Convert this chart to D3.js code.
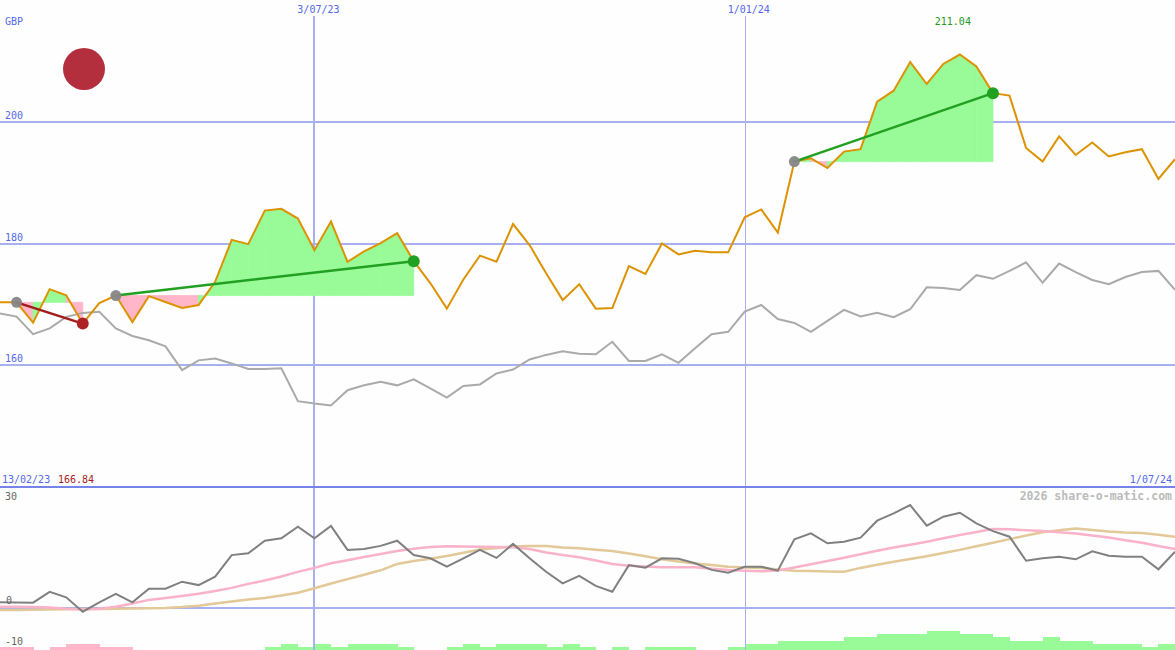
<!DOCTYPE html>
<html>
<head>
<meta charset="utf-8">
<script src="https://cdn.jsdelivr.net/npm/d3@7"></script>
<style>
  html,body{margin:0;padding:0;background:#fdfefd;}
  svg{display:block;}
  text{font-family:"DejaVu Sans Mono","Liberation Mono",monospace;font-size:10px;}
</style>
</head>
<body>
<svg id="chart" width="1175" height="650"></svg>
<script>
// ---------- DATA ----------
const dates = ["2023-02-20","2023-02-27","2023-03-06","2023-03-13","2023-03-20","2023-03-27","2023-04-03","2023-04-10","2023-04-17","2023-04-24",
  "2023-05-01","2023-05-08","2023-05-15","2023-05-22","2023-05-29","2023-06-05","2023-06-12","2023-06-19","2023-06-26","2023-07-03",
  "2023-07-10","2023-07-17","2023-07-24","2023-07-31","2023-08-07","2023-08-14","2023-08-21","2023-08-28","2023-09-04","2023-09-11",
  "2023-09-18","2023-09-25","2023-10-02","2023-10-09","2023-10-16","2023-10-23","2023-10-30","2023-11-06","2023-11-13","2023-11-20",
  "2023-11-27","2023-12-04","2023-12-11","2023-12-18","2023-12-25","2024-01-01","2024-01-08","2024-01-15","2024-01-22","2024-01-29",
  "2024-02-05","2024-02-12","2024-02-19","2024-02-26","2024-03-04","2024-03-11","2024-03-18","2024-03-25","2024-04-01","2024-04-08",
  "2024-04-15","2024-04-22","2024-04-29","2024-05-06","2024-05-13","2024-05-20","2024-05-27","2024-06-03","2024-06-10","2024-06-17",
  "2024-06-24","2024-07-01"];

// share price (GBP) - orange line
const price = [170.33,170.33,167.0,172.5,171.5,166.84,170.2,171.45,167.1,171.35,
  170.4,169.4,169.9,173.7,180.6,179.9,185.4,185.7,184.1,178.9,
  183.6,177.0,178.7,180.05,181.7,177.1,173.5,169.3,174.1,178.0,
  177.0,183.2,179.75,175.1,170.7,173.3,169.3,169.4,176.3,175.0,
  180.0,178.2,178.8,178.55,178.55,184.3,185.6,181.8,193.45,194.0,
  192.4,195.1,195.5,203.3,205.1,209.8,206.2,209.5,211.04,209.1,
  204.7,204.3,195.7,193.45,197.6,194.55,196.6,194.3,195.0,195.5,
  190.6,193.85];

// comparison index (rebased) - grey line
const index = [168.5,168.0,165.1,166.05,167.95,168.6,168.8,166.05,164.8,164.1,
  163.1,159.2,160.8,161.1,160.3,159.4,159.4,159.5,154.1,153.7,
  153.4,155.9,156.7,157.3,156.7,157.7,156.2,154.7,156.6,156.85,
  158.65,159.3,160.95,161.7,162.3,161.9,161.8,163.85,160.7,160.7,
  161.8,160.4,162.8,165.1,165.5,168.8,169.9,167.6,166.95,165.5,
  167.3,169.1,168.0,168.6,167.9,169.2,172.8,172.7,172.35,174.8,
  174.2,175.5,176.9,173.55,176.7,175.3,174.0,173.3,174.5,175.3,
  175.5,172.4];

// lower panel: momentum (dark grey), fast average (pink), slow average (tan)
const momentum = [1.3,1.25,1.2,3.9,2.55,-1.05,1.3,3.4,1.3,4.7,
  4.7,6.45,5.6,7.7,13.1,13.55,16.7,17.3,20.2,17.3,
  20.4,14.4,14.6,15.4,16.7,13.1,12.3,10.2,12.3,14.4,
  12.4,15.9,12.3,8.95,6.05,7.9,5.4,3.95,10.6,9.95,
  12.3,12.2,11.05,9.4,8.7,10.2,10.2,9.2,17.05,18.55,
  16.05,16.45,17.45,21.7,23.55,25.6,20.45,22.7,23.7,21.05,
  19.1,17.7,11.7,12.3,12.7,12.05,14.05,12.95,12.7,12.7,
  9.55,13.95];
const fastAvg = [0.2,0.2,0.1,0.0,-0.3,-0.5,-0.3,0.2,1.0,1.9,
  2.4,2.9,3.45,4.15,4.9,5.9,6.75,7.75,8.9,9.9,
  11.05,11.8,12.6,13.4,14.1,14.7,15.1,15.3,15.25,15.2,
  15.1,15.05,14.6,13.75,13.1,12.55,11.75,10.9,10.45,10.25,
  10.05,10.05,10.05,9.7,9.4,9.2,9.05,9.25,10.0,10.8,
  11.6,12.45,13.3,14.2,15.0,15.7,16.45,17.3,18.1,18.9,
  19.6,19.55,19.3,19.1,18.8,18.5,18.0,17.5,16.8,16.2,
  15.4,14.6];
const slowAvg = [-0.6,-0.6,-0.55,-0.5,-0.45,-0.4,-0.35,-0.3,-0.25,-0.2,
  -0.1,0.1,0.45,1.0,1.5,2.0,2.4,3.0,3.7,4.8,
  6.0,7.1,8.2,9.3,10.9,11.6,12.2,12.9,13.7,14.5,
  14.9,15.25,15.4,15.35,15.0,14.8,14.45,14.1,13.5,12.8,
  12.05,11.5,11.0,10.6,10.2,10.0,9.9,9.5,9.2,9.1,
  9.0,8.95,9.9,10.7,11.45,12.1,12.8,13.6,14.4,15.3,
  16.2,17.1,18.0,18.8,19.3,19.75,19.4,19.0,18.75,18.6,
  18.2,17.7];
// weekly signal strength bars (negative = pink, positive = green)
const signalBars = [-1,-1,0,-1,-2,-2,-1,-1,0,0,
  0,0,0,0,0,0,1,2,1,2,
  1,2,2,2,1,0,0,1,2,1,
  2,2,2,1,2,1,0,1,0,1,
  1,1,0,0,1,2,2,3,3,3,
  3,4,4,5,5,5,6,6,5,5,
  4,3,3,4,3,3,2,2,2,1,
  2,2];

// trend segments (start date -> end date)
const trendStart = ["2023-02-27","2023-04-10","2024-01-22"];
const trendEnd   = ["2023-03-27","2023-08-14","2024-04-15"];
const trendColor = ["#a31c1c","#22a022","#22a022"];

const priceTicks = [160,180,200];
const lowTicks = [30,0,-10];
const dateTicks = ["2023-07-03","2024-01-01"];
const dateTickLabels = ["3/07/23","1/01/24"];

// ---------- DRAW ----------
const parse = d3.utcParse("%Y-%m-%d");
const D = dates.map(parse);
const W = 1175, H = 650;
const svg = d3.select("#chart");

const x = d3.scaleUtc().domain([parse("2023-02-20"), parse("2024-07-01")]).range([0, W]);
const y = d3.scaleLinear().domain([140, 220]).range([487, 0]);
const yl = d3.scaleLinear().domain([-10, 30]).range([647.5, 487.5]);
const barH = d3.scaleLinear().domain([0, 6]).range([0, 19]);

const BLUE_TXT = "#5468ee", GRID = "#a7b1f0", SEP = "#7684ea";
const GREEN_F = "#98fb98", PINK_F = "#ffb6c8";

svg.append("rect").attr("width", W).attr("height", H).attr("fill", "#fdfefd");

// lower bars
const gBars = svg.append("g");
signalBars.forEach((v, i) => {
  if (v === 0) return;
  const x0 = x(D[i]);
  const x1 = i + 1 < D.length ? x(D[i + 1]) : x0 + (x(D[1]) - x(D[0]));
  const h = barH(Math.abs(v));
  gBars.append("rect").attr("x", x0).attr("width", x1 - x0 + 0.5)
    .attr("y", H - h).attr("height", h)
    .attr("fill", v < 0 ? "#ffb6c8" : "#98fb98")
    .attr("shape-rendering", "crispEdges");
});

// horizontal gridlines main
priceTicks.forEach(v => {
  svg.append("line").attr("x1", 0).attr("x2", W)
    .attr("y1", Math.round(y(v))).attr("y2", Math.round(y(v)))
    .attr("stroke", GRID).attr("stroke-width", 2).attr("shape-rendering", "crispEdges");
});
// lower zero line
svg.append("line").attr("x1", 0).attr("x2", W)
  .attr("y1", Math.round(yl(0))).attr("y2", Math.round(yl(0)))
  .attr("stroke", GRID).attr("stroke-width", 2).attr("shape-rendering", "crispEdges");

// vertical date lines
dateTicks.forEach((d, i) => {
  const xv = Math.round(x(parse(d)));
  svg.append("line").attr("x1", xv).attr("x2", xv).attr("y1", 16).attr("y2", H)
    .attr("stroke", GRID).attr("stroke-width", i === 0 ? 2 : 1).attr("shape-rendering", "crispEdges");
});

// panel separator
svg.append("line").attr("x1", 0).attr("x2", W).attr("y1", 487).attr("y2", 487)
  .attr("stroke", SEP).attr("stroke-width", 2).attr("shape-rendering", "crispEdges");

// trend fills
const idx = s => dates.indexOf(s);
const gFill = svg.append("g");
trendStart.forEach((s, t) => {
  const a = idx(s), b = idx(trendEnd[t]);
  const base = price[a], yb = y(base);
  for (let i = a; i < b; i++) {
    const pts = [[x(D[i]), yb], [x(D[i]), y(price[i])], [x(D[i + 1]), y(price[i + 1])], [x(D[i + 1]), yb]];
    const col = price[i + 1] >= base ? GREEN_F : PINK_F;
    gFill.append("path").attr("d", d3.line()(pts) + "Z")
      .attr("fill", col).attr("stroke", col).attr("stroke-width", 0.8).attr("stroke-linejoin", "miter");
  }
});

// index line
const lineMain = d3.line().x((d, i) => x(D[i])).y(d => y(d));
svg.append("path").attr("d", lineMain(index)).attr("fill", "none")
  .attr("stroke", "#aaaaaa").attr("stroke-width", 2);
// price line
svg.append("path").attr("d", lineMain(price)).attr("fill", "none")
  .attr("stroke", "#dd9200").attr("stroke-width", 2);

// trend lines and dots
trendStart.forEach((s, t) => {
  const a = idx(s), b = idx(trendEnd[t]);
  svg.append("line").attr("x1", x(D[a])).attr("y1", y(price[a]))
    .attr("x2", x(D[b])).attr("y2", y(price[b]))
    .attr("stroke", trendColor[t]).attr("stroke-width", 2.5);
});
trendStart.forEach((s, t) => {
  const a = idx(s), b = idx(trendEnd[t]);
  svg.append("circle").attr("cx", x(D[a])).attr("cy", y(price[a])).attr("r", 5.5)
    .attr("fill", "#868686").attr("opacity", 0.95);
  svg.append("circle").attr("cx", x(D[b])).attr("cy", y(price[b])).attr("r", 6)
    .attr("fill", t === 0 ? "#ad2222" : "#22a022");
});

// signal indicator (top left)
svg.append("circle").attr("cx", 84).attr("cy", 69).attr("r", 21).attr("fill", "#b32f3e");

// lower panel lines
const lineLow = d3.line().x((d, i) => x(D[i])).y(d => yl(d));
svg.append("path").attr("d", lineLow(slowAvg)).attr("fill", "none")
  .attr("stroke", "#e3c898").attr("stroke-width", 2.5);
svg.append("path").attr("d", lineLow(fastAvg)).attr("fill", "none")
  .attr("stroke", "#fab2c8").attr("stroke-width", 2.5);
svg.append("path").attr("d", lineLow(momentum)).attr("fill", "none")
  .attr("stroke", "#808080").attr("stroke-width", 2);

// ---------- TEXT ----------
svg.append("text").attr("x", 5).attr("y", 25).attr("fill", BLUE_TXT).text("GBP");
priceTicks.forEach(v => {
  svg.append("text").attr("x", 5).attr("y", y(v) - 3).attr("fill", BLUE_TXT).text(v);
});
dateTicks.forEach((d, i) => {
  svg.append("text").attr("x", x(parse(d)) + 4).attr("y", 13).attr("text-anchor", "middle")
    .attr("fill", BLUE_TXT).text(dateTickLabels[i]);
});
// peak value label
const peakI = d3.maxIndex(price);
svg.append("text").attr("x", x(D[peakI]) - 7).attr("y", 25).attr("text-anchor", "middle")
  .attr("fill", "#229922").text(price[peakI].toFixed(2));
// bottom of main panel
svg.append("text").attr("x", 2).attr("y", 483).attr("fill", BLUE_TXT).text("13/02/23");
svg.append("text").attr("x", 58).attr("y", 483).attr("fill", "#a31c1c").text(price[idx(trendEnd[0])].toFixed(2));
svg.append("text").attr("x", 1172).attr("y", 483).attr("text-anchor", "end").attr("fill", BLUE_TXT).text("1/07/24");
// lower panel labels
svg.append("text").attr("x", 5).attr("y", yl(30) + 12.5).attr("fill", "#666").text("30");
svg.append("text").attr("x", 6).attr("y", yl(0) - 3.5).attr("fill", "#666").text("0");
svg.append("text").attr("x", 5).attr("y", yl(-10) - 2.5).attr("fill", "#666").text("-10");
svg.append("text").attr("x", 1172).attr("y", 500).attr("text-anchor", "end")
  .attr("fill", "#bbbbbb").style("font-size", "11.5px").style("font-weight", "bold")
  .text("2026 share-o-matic.com");
</script>
</body>
</html>
